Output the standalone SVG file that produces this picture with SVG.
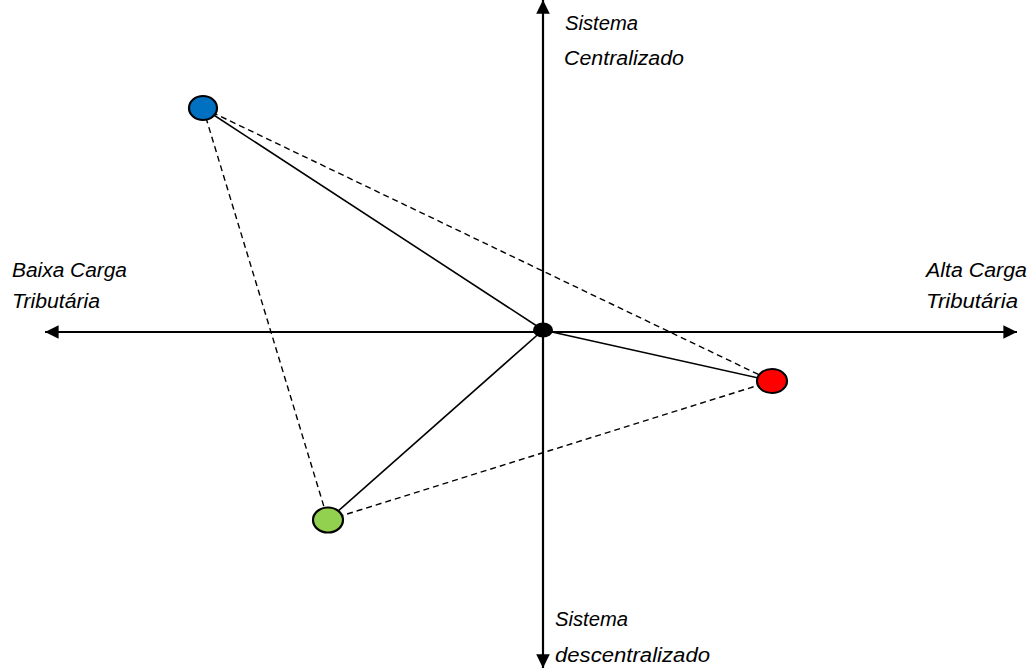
<svg xmlns="http://www.w3.org/2000/svg" width="1029" height="668" viewBox="0 0 1029 668">
  <style>
    .axis { stroke: #000; stroke-width: 2.2; fill: none; }
    .solid { stroke: #000; stroke-width: 1.6; fill: none; }
    .dash { stroke: #000; stroke-width: 1.4; fill: none; stroke-dasharray: 6 4; }
    .pt { stroke: #000; stroke-width: 2.2; }
    .lbl { font-family: "Liberation Sans", Arial, sans-serif; font-style: italic; font-size: 20px; fill: #000; }
  </style>
  <defs>
    <marker id="ah" viewBox="0 0 10 10" refX="10" refY="5" markerWidth="6.2" markerHeight="6.2" orient="auto" markerUnits="strokeWidth">
      <path d="M0,0 L10,5 L0,10 Z" fill="#000"/>
    </marker>
  </defs>
  <g id="axes">
    <line class="axis" x1="543" y1="332" x2="543" y2="0" marker-end="url(#ah)"/>
    <line class="axis" x1="543" y1="332" x2="543" y2="668" marker-end="url(#ah)"/>
    <line class="axis" x1="543" y1="332" x2="45" y2="332" marker-end="url(#ah)"/>
    <line class="axis" x1="543" y1="332" x2="1017" y2="332" marker-end="url(#ah)"/>
  </g>
  <g id="connectors">
    <line class="solid" x1="203" y1="108" x2="543" y2="330"/>
    <line class="solid" x1="543" y1="330" x2="772" y2="381"/>
    <line class="solid" x1="543" y1="330" x2="328" y2="520"/>
    <line class="dash" x1="203" y1="108" x2="772" y2="381"/>
    <line class="dash" x1="203" y1="108" x2="328" y2="520"/>
    <line class="dash" x1="328" y1="520" x2="772" y2="381"/>
  </g>
  <g id="node-origin"><ellipse cx="543" cy="330" rx="10" ry="7.5" fill="#000"/></g>
  <g id="node-blue"><ellipse class="pt" cx="203" cy="108" rx="14" ry="12" fill="#0070C0"/></g>
  <g id="node-red"><ellipse class="pt" cx="772" cy="381" rx="15" ry="12" fill="#FF0000"/></g>
  <g id="node-green"><ellipse class="pt" cx="328" cy="520" rx="15" ry="12.5" fill="#92D050"/></g>
  <g id="labels">
    <text class="lbl" x="565" y="30" textLength="73" lengthAdjust="spacingAndGlyphs">Sistema</text>
    <text class="lbl" x="564" y="65" textLength="120" lengthAdjust="spacingAndGlyphs">Centralizado</text>
    <text class="lbl" x="12" y="277" textLength="115" lengthAdjust="spacingAndGlyphs">Baixa Carga</text>
    <text class="lbl" x="12" y="308" textLength="88" lengthAdjust="spacingAndGlyphs">Tributária</text>
    <text class="lbl" x="926" y="277" textLength="101" lengthAdjust="spacingAndGlyphs">Alta Carga</text>
    <text class="lbl" x="926" y="308" textLength="92" lengthAdjust="spacingAndGlyphs">Tributária</text>
    <text class="lbl" x="555" y="626" textLength="73" lengthAdjust="spacingAndGlyphs">Sistema</text>
    <text class="lbl" x="555" y="662" textLength="155" lengthAdjust="spacingAndGlyphs">descentralizado</text>
  </g>
</svg>
